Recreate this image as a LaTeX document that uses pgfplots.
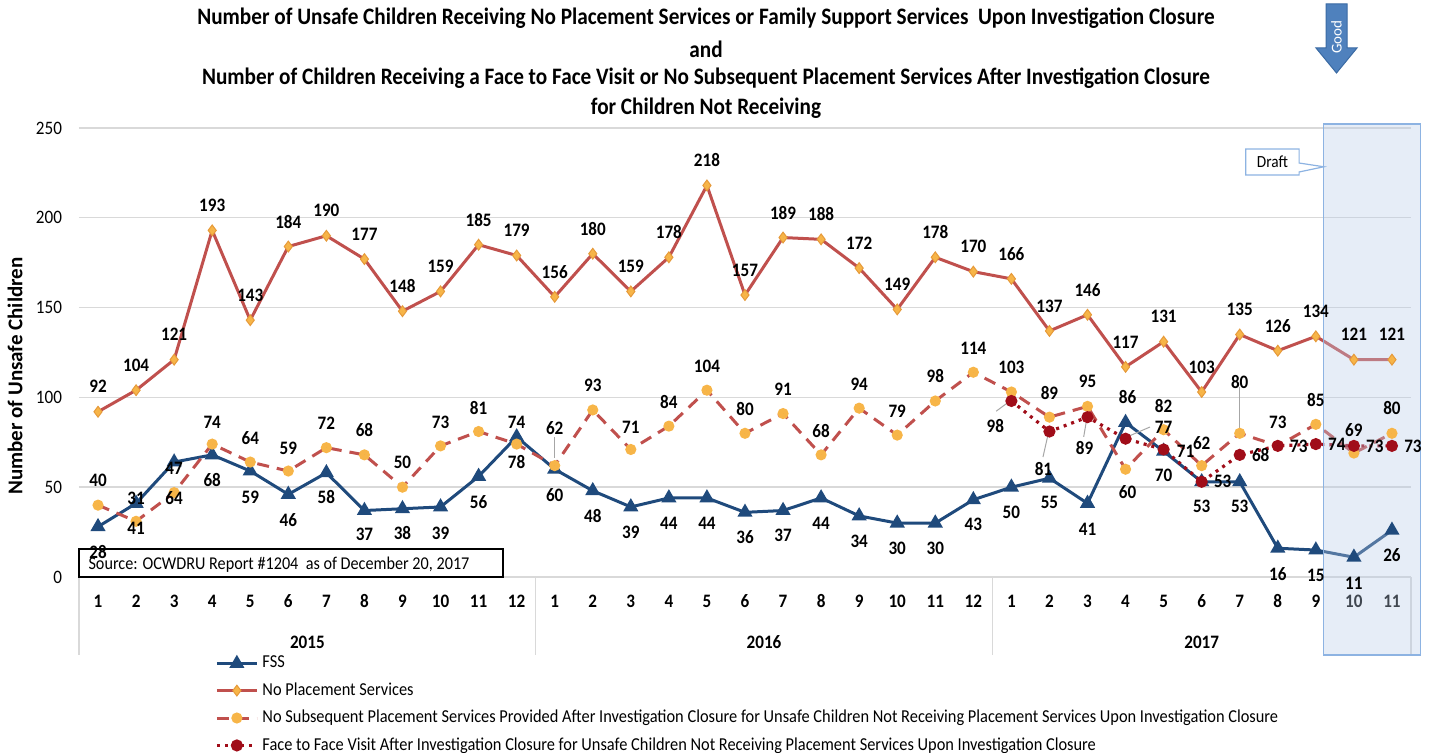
\documentclass[border=0pt]{standalone}
\usepackage{fontspec}
\setmainfont{Carlito}[FakeStretch=0.9]
\newfontfamily\plainfont{Carlito}
\usepackage{pgfplots}
\pgfplotsset{compat=1.18}
\usepackage{pgfplotstable}

\definecolor{fss}{HTML}{1F4A7C}
\definecolor{nps}{HTML}{C0504D}
\definecolor{mk}{HTML}{F7B548}
\definecolor{mkedge}{HTML}{E69A3A}
\definecolor{ftf}{HTML}{A00D19}
\definecolor{gridc}{HTML}{D9D9D9}
\definecolor{draftfill}{HTML}{B8CCE8}
\definecolor{draftedge}{HTML}{8DB3E2}
\definecolor{goodblue}{HTML}{4F81BD}
\definecolor{goodedge}{HTML}{3A6AA3}
\definecolor{leader}{HTML}{A6A6A6}

% x = month index (1..35), y = value, dx/dy = label offset in pt
\pgfplotstableread{
x y dx dy
1 28 0 -12.5
2 41 0 -12.5
3 64 0 -18
4 68 0 -12.5
5 59 0 -13
6 46 0 -13
7 58 0 -12
8 37 0 -12
9 38 0 -12
10 39 0 -13
11 56 0 -13
12 78 0 -12.5
13 60 0 -13
14 48 0 -12.5
15 39 0 -12.5
16 44 0 -12.5
17 44 0 -12.5
18 36 0 -12.5
19 37 0 -12.5
20 44 0 -12.5
21 34 0 -12.5
22 30 0 -12.5
23 30 0 -12.5
24 43 0 -12.5
25 50 0 -12.5
26 55 0 -12
27 41 0 -13
28 86 1 13
29 70 0 -12
30 53 0 -12.5
31 53 0 -12.5
32 16 0 -13
33 15 0 -12.5
34 11 0 -13
35 26 0 -12.5
}\fsstab

\pgfplotstableread{
x y dx dy
1 92 0 12.5
2 104 0 12.5
3 121 0 12.5
4 193 0 12.5
5 143 0 12.5
6 184 0 12.5
7 190 0 12.5
8 177 0 12.5
9 148 0 12.5
10 159 0 12.5
11 185 0 12.5
12 179 0 12.5
13 156 0 12.5
14 180 0 12.5
15 159 0 12.5
16 178 0 12.5
17 218 0 12.5
18 157 0 12.5
19 189 0 12.5
20 188 0 12.5
21 172 0 12.5
22 149 0 12.5
23 178 0 12.5
24 170 0 12.5
25 166 0 12.5
26 137 0 12.5
27 146 0 12.5
28 117 0 12.5
29 131 0 12.5
30 103 0 12.5
31 135 0 12.5
32 126 0 12.5
33 134 0 12.5
34 121 0 12.5
35 121 0 12.5
}\npstab

\pgfplotstableread{
x y dx dy
1 40 0 12.5
2 31 0 11.5
3 47 0 12
4 74 0 11
5 64 0 12
6 59 0 11.5
7 72 0 12
8 68 0 12.5
9 50 0 12.5
10 73 0 12
11 81 0 12
12 74 0 11
13 62 0 19
14 93 0 12.5
15 71 0 11
16 84 0 12
17 104 0 12
18 80 0 12
19 91 0 12
20 68 0 12
21 94 0 12
22 79 0 12
23 98 0 12.5
24 114 0 12
25 103 0 12.5
26 89 0 12
27 95 0 12.5
28 60 1 -11.5
29 82 0 12
30 62 0 11.5
31 80 0 25.5
32 73 0 12
33 85 0 12
34 69 0 11.5
35 80 0 12.5
}\nsptab

\pgfplotstableread{
x y dx dy
25 98 -8 -12.5
26 81 -3 -18.5
27 89 -1.5 -15.5
28 77 19 5.5
29 71 11 -1
30 53 10.5 0
31 68 10.5 0
32 73 10.5 0
33 74 10.5 0
34 73 10.5 0
35 73 10.5 0
}\ftftab

\pgfplotsset{
  lbl/.style={forget plot, only marks, mark=*, mark size=0pt,
    mark options={draw=none, fill=none},
    nodes near coords, point meta=explicit,
    visualization depends on={\thisrow{dx}\as\dx},
    visualization depends on={\thisrow{dy}\as\dy},
    every node near coord/.append style={font=\bfseries\fontsize{9.5}{10}\selectfont,
      anchor=center, xshift=\dx pt, yshift=\dy pt, text=black, inner sep=0pt}},
}

\begin{document}
\begin{tikzpicture}
\useasboundingbox (0,0) rectangle (716pt,376.5pt);

% title
\begin{scope}[every node/.style={font=\bfseries\fontsize{11.8}{13}\selectfont, inner sep=0pt}]
\node at (353pt,367.5pt) {Number of Unsafe Children Receiving No Placement Services or Family Support Services~ Upon Investigation Closure};
\node at (353pt,352pt) {and};
\node at (353pt,337.5pt) {Number of Children Receiving a Face to Face Visit or No Subsequent Placement Services After Investigation Closure};
\node at (353pt,322.5pt) {for Children Not Receiving};
\end{scope}

\begin{axis}[
  at={(39.5pt,88pt)}, anchor=south west,
  scale only axis, width=666pt, height=224.5pt,
  xmin=0.5, xmax=35.5, ymin=0, ymax=250,
  xtick={1,...,35},
  xticklabels={1,2,3,4,5,6,7,8,9,10,11,12,1,2,3,4,5,6,7,8,9,10,11,12,1,2,3,4,5,6,7,8,9,10,11},
  ytick={0,50,100,150,200,250},
  ymajorgrids, grid style={gridc, line width=0.7pt},
  axis line style={draw=none}, major tick length=0pt,
  /pgf/number format/assume math mode=true,
  yticklabel style={font=\fontsize{9.5}{10}\selectfont, anchor=east, xshift=-5pt},
  xticklabel style={font=\bfseries\fontsize{9.5}{10}\selectfont, anchor=center, yshift=-12pt},
  clip=false,
  legend cell align=left,
  legend style={at={(0.102,-0.1665)}, anchor=north west, draw=none, fill=none,
    font=\fontsize{9.1}{10}\selectfont, row sep=1.9pt, inner sep=0pt},
  legend image code/.code={\draw[mark repeat=2,mark phase=2,#1] plot coordinates {(0pt,0pt) (10pt,0pt) (20pt,0pt)};},
]
% year separators
\draw[gridc, line width=0.7pt] (axis cs:0.5,0) -- (axis cs:0.5,-43.4);
\draw[gridc, line width=0.7pt] (axis cs:12.5,0) -- (axis cs:12.5,-43.4);
\draw[gridc, line width=0.7pt] (axis cs:24.5,0) -- (axis cs:24.5,-43.4);
\draw[gridc, line width=0.7pt] (axis cs:35.5,0) -- (axis cs:35.5,-43.4);

\addplot[fss, line width=1.5pt, mark=triangle*, mark size=2.9pt, mark options={solid}]
  table[x=x,y=y]{\fsstab};
\addlegendentry{FSS}
\addplot[nps, line width=1.5pt, mark=diamond*, mark size=2.7pt,
  mark options={solid, fill=mk, draw=mkedge, line width=0.5pt}]
  table[x=x,y=y]{\npstab};
\addlegendentry{No Placement Services}
\addplot[nps, line width=1.5pt, dash pattern=on 6pt off 4pt, mark=*, mark size=2pt,
  mark options={solid, fill=mk, draw=mk}]
  table[x=x,y=y]{\nsptab};
\addlegendentry{No Subsequent Placement Services Provided After Investigation Closure for Unsafe Children Not Receiving Placement Services Upon Investigation Closure}
\addplot[ftf, line width=1.6pt, dash pattern=on 1.5pt off 2.5pt, mark=*, mark size=2.2pt,
  mark options={solid, fill=ftf}]
  table[x=x,y=y]{\ftftab};
\addlegendentry{Face to Face Visit After Investigation Closure for Unsafe Children Not Receiving Placement Services Upon Investigation Closure}

% leader lines
\draw[leader, line width=0.5pt] (axis cs:13,78) -- (axis cs:13,66);
\draw[leader, line width=0.5pt] (axis cs:24.6,92.3) -- (axis cs:24.9,97);
\draw[leader, line width=0.5pt] (axis cs:25.83,66.8) -- (axis cs:25.96,79);
\draw[leader, line width=0.5pt] (axis cs:26.9,78) -- (axis cs:26.98,88);
\draw[leader, line width=0.5pt] (axis cs:28.64,83.5) -- (axis cs:28.04,78);
\draw[leader, line width=0.5pt] (axis cs:31,105.8) -- (axis cs:31,82);

% data labels
\addplot[lbl] table[x=x,y=y,meta=y]{\fsstab};
\addplot[lbl] table[x=x,y=y,meta=y]{\npstab};
\addplot[lbl] table[x=x,y=y,meta=y]{\nsptab};
\addplot[lbl] table[x=x,y=y,meta=y]{\ftftab};

% year labels
\node[font=\bfseries\fontsize{9.5}{10}\selectfont] at (axis cs:6.5,-36.5) {2015};
\node[font=\bfseries\fontsize{9.5}{10}\selectfont] at (axis cs:18.5,-36.5) {2016};
\node[font=\bfseries\fontsize{9.5}{10}\selectfont] at (axis cs:30,-36.5) {2017};

% source box
\draw[black, line width=0.6pt, fill=white] (axis cs:0.5,0) rectangle (axis cs:11.64,15.6);
\node[anchor=west, font=\fontsize{9}{10}\selectfont, inner sep=0pt] at (axis cs:0.74,6.8)
  {Source: OCWDRU Report \#1204~ as of December 20, 2017};

% draft overlay
\fill[draftfill, fill opacity=0.35] (axis cs:33.21,252.2) rectangle (axis cs:35.76,-43.4);
\draw[draftedge, line width=0.6pt] (axis cs:33.21,252.2) rectangle (axis cs:35.76,-43.4);
\draw[draftedge, line width=0.6pt, fill=white]
  (axis cs:31.16,238.3) -- (axis cs:32.56,238.3) -- (axis cs:32.56,230.5)
  -- (axis cs:33.21,228.4) -- (axis cs:32.56,225.5) -- (axis cs:32.56,223.8)
  -- (axis cs:31.16,223.8) -- cycle;
\node[font=\fontsize{8.5}{9}\selectfont] at (axis cs:31.86,231) {Draft};
\end{axis}

% y label
\node[rotate=90, font=\plainfont\bfseries\fontsize{10.5}{11}\selectfont] at (7.5pt,188.5pt) {Number of Unsafe Children};

% Good arrow
\filldraw[fill=goodblue, draw=goodedge, line width=0.5pt]
  (663pt,374.5pt) -- (673.5pt,374.5pt) -- (673.5pt,352.5pt) -- (678.5pt,352.5pt)
  -- (668.25pt,340pt) -- (658pt,352.5pt) -- (663pt,352.5pt) -- cycle;
\node[rotate=90, text=white, font=\plainfont\fontsize{7.5}{8}\selectfont, inner sep=0pt] at (668.25pt,358pt) {Good};
\end{tikzpicture}
\end{document}
